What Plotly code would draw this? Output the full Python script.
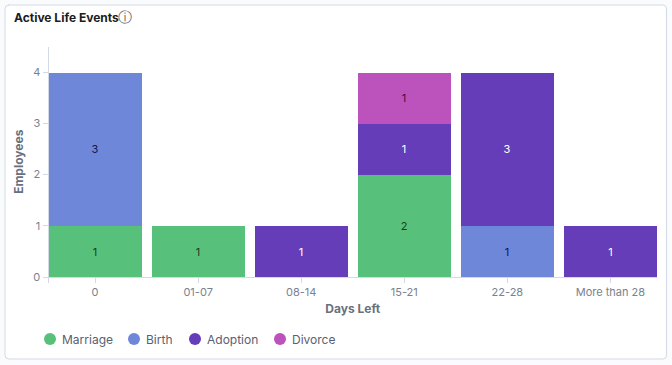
import plotly.graph_objects as go

W, H = 672, 365
categories = ["0", "01-07", "08-14", "15-21", "22-28", "More than 28"]
marriage = [1, 1, 0, 2, 0, 0]
birth = [3, 0, 0, 0, 1, 0]
adoption = [0, 0, 1, 1, 3, 1]
divorce = [0, 0, 0, 1, 0, 0]
series = [
    ("Marriage", marriage, "#57C17B", "#1f3b27"),
    ("Birth", birth, "#6F87D8", "#10184a"),
    ("Adoption", adoption, "#663DB8", "#ffffff"),
    ("Divorce", divorce, "#BC52BC", "#3c0f3c"),
]
y_ticks = [0, 1, 2, 3, 4]
legend_marker_x = [50, 134, 195, 280]

fig = go.Figure()
for name, vals, col, tcol in series:
    fig.add_trace(go.Bar(
        x=categories, y=[v if v else None for v in vals], name=name,
        marker=dict(color=col, line=dict(width=0)),
        width=0.905, text=[str(v) if v else "" for v in vals],
        textposition="inside", insidetextanchor="middle", textangle=0,
        textfont=dict(color=tcol, size=11, family="Inter"),
        hoverinfo="skip", showlegend=False, constraintext="none",
    ))

x0, x1 = 48.5 / W, 657 / W
y0, y1 = 1 - 277 / H, 1 - 46.5 / H

legend_shapes = []
legend_notes = []
for (name, _, col, _), mx in zip(series, legend_marker_x):
    legend_shapes.append(dict(type="circle", xref="paper", yref="paper",
                              x0=(mx - 6) / W, x1=(mx + 6) / W,
                              y0=1 - (339 + 6) / H, y1=1 - (339 - 6) / H,
                              fillcolor=col, line=dict(width=0)))
    legend_notes.append(dict(text=name, xref="paper", yref="paper", x=(mx + 10) / W, y=1 - 339 / H,
                             xanchor="left", yanchor="middle", showarrow=False,
                             font=dict(size=12, color="#5a6070", family="Inter")))

fig.update_layout(
    width=W, height=H, margin=dict(l=0, r=0, t=0, b=0),
    barmode="stack", bargap=0, paper_bgcolor="#fafbfd", plot_bgcolor="rgba(0,0,0,0)",
    font=dict(family="Inter", color="#69707D", size=12),
    showlegend=False,
    xaxis=dict(domain=[x0, x1], type="category", range=[-0.452, 5.452], automargin=False,
               showgrid=False, zeroline=False, showline=True, linecolor="#d3dae6", linewidth=1,
               ticks="outside", ticklen=5, tickcolor="#d3dae6", tickwidth=1,
               tickfont=dict(size=11, color="#7a8190", family="Inter"),
               title=dict(text="<b>Days Left</b>", font=dict(size=12, color="#69707D", family="Inter"), standoff=6),
               fixedrange=True),
    yaxis=dict(domain=[y0, y1], range=[0, 4.5], tickvals=y_ticks, automargin=False,
               showgrid=False, zeroline=False, showline=True, linecolor="#d3dae6", linewidth=1,
               ticks="outside", ticklen=5, tickcolor="#d3dae6", tickwidth=1,
               tickfont=dict(size=11, color="#7a8190", family="Inter"),
               title=dict(text="<b>Employees</b>", font=dict(size=12, color="#69707D", family="Inter"), standoff=6),
               fixedrange=True),
    shapes=[
        dict(type="path", xref="paper", yref="paper", layer="below",
             path=f"M {8/W} {1-5/H} L {663/W} {1-5/H} Q {666.5/W} {1-5/H} {666.5/W} {1-9/H} "
                  f"L {666.5/W} {1-355/H} Q {666.5/W} {1-359/H} {663/W} {1-359/H} "
                  f"L {9/W} {1-359/H} Q {5/W} {1-359/H} {5/W} {1-355/H} "
                  f"L {5/W} {1-9/H} Q {5/W} {1-5/H} {9/W} {1-5/H} Z",
             fillcolor="#ffffff", line=dict(color="#d3dae6", width=1)),
        dict(type="line", xref="paper", yref="paper", x0=x0, x1=x0, y0=y0, y1=1 - 283 / H,
             line=dict(color="#d3dae6", width=1)),
    ] + legend_shapes,
    annotations=[
        dict(text="<b>Active Life Events</b>", xref="paper", yref="paper", x=11.5 / W, y=1 - 17 / H,
             xanchor="left", yanchor="middle", showarrow=False,
             font=dict(size=12, color="#1a1c21", family="Inter")),
        dict(text="ⓘ", xref="paper", yref="paper", x=125 / W, y=1 - 17 / H,
             xanchor="center", yanchor="middle", showarrow=False,
             font=dict(size=14, color="#555a64", family="DejaVu Sans")),
    ] + legend_notes,
)
fig.write_html("out.html", config={"displayModeBar": False},
               post_script="document.body.style.margin='0';document.body.style.overflow='hidden';")
